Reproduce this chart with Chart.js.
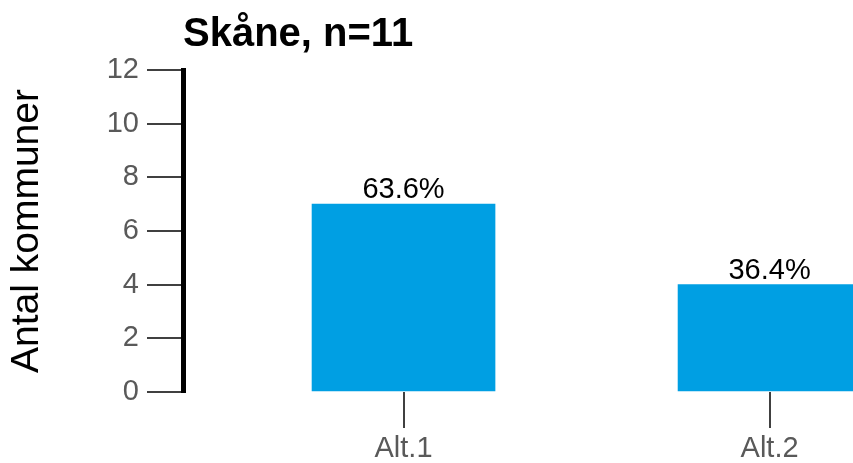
<!DOCTYPE html>
<html>
<head>
<meta charset="utf-8">
<script src="https://cdn.jsdelivr.net/npm/chart.js@4"></script>
<style>
    html, body { margin: 0; padding: 0; background: #ffffff; }
    #wrap { width: 853px; height: 463px; position: relative; }
</style>
</head>
<body>
<div id="wrap"><canvas id="skane-chart"></canvas></div>
<script>
// data
const region = 'Skåne';
const categories = ['Alt.1', 'Alt.2'];
const counts = [7, 4];
const total = 11;
const yTickStep = 2;
const yMax = 12;

const barColor = '#009fe3';
const tickColor = '#404040';
const labelColor = '#595959';

Chart.defaults.font.family = '"Liberation Sans", Arial, sans-serif';

// percent labels above the bars
const barLabels = {
    id: 'barLabels',
    afterDatasetsDraw(chart) {
        const { ctx } = chart;
        const meta = chart.getDatasetMeta(0);
        ctx.save();
        ctx.font = '29px "Liberation Sans", Arial, sans-serif';
        ctx.fillStyle = '#000000';
        ctx.textAlign = 'center';
        ctx.textBaseline = 'alphabetic';
        meta.data.forEach((bar, i) => {
            const pct = (counts[i] / total * 100).toFixed(1) + '%';
            ctx.fillText(pct, bar.x, bar.y - 6);
        });
        ctx.restore();
    }
};

const el = document.getElementById('skane-chart');
new Chart(el, {
    type: 'bar',
    data: {
        datasets: [{
            data: counts.map((v, i) => ({ x: i, y: v })),
            backgroundColor: barColor,
            borderWidth: 0,
            barThickness: 183,
        }]
    },
    options: {
        responsive: true,
        maintainAspectRatio: false,
        animation: false,
        layout: { padding: 0 },
        plugins: {
            legend: { display: false },
            tooltip: { enabled: false },
            title: {
                display: true,
                text: `${region}, n=${total}`,
                align: 'start',
                fullSize: false,
                color: '#000000',
                font: { size: 40, weight: 'bold' },
                padding: { top: 11, bottom: 11 },
            }
        },
        scales: {
            x: {
                type: 'linear',
                offset: false,
                min: -0.6025,
                max: 1.228,
                afterBuildTicks: s => { s.ticks = categories.map((c, i) => ({ value: i })); },
                afterFit: s => { s.height = 71; },
                ticks: {
                    callback: v => categories[v],
                    color: labelColor,
                    font: { size: 29 },
                    padding: 4,
                    maxRotation: 0,
                    autoSkip: false,
                },
                grid: { offset: false, drawOnChartArea: false, tickLength: 36, color: tickColor, lineWidth: 2 },
                border: { display: false },
            },
            y: {
                min: 0,
                max: yMax,
                afterFit: s => { s.width = 183; },
                ticks: {
                    stepSize: yTickStep,
                    color: labelColor,
                    font: { size: 29 },
                    padding: 8,
                },
                grid: { drawOnChartArea: false, tickLength: 36, color: tickColor, lineWidth: 2 },
                border: { display: true, color: '#000000', width: 5 },
                title: {
                    display: true,
                    text: 'Antal kommuner',
                    color: '#000000',
                    font: { size: 39 },
                    padding: { top: 4, bottom: 0 },
                }
            }
        }
    },
    plugins: [barLabels]
});
</script>
</body>
</html>
